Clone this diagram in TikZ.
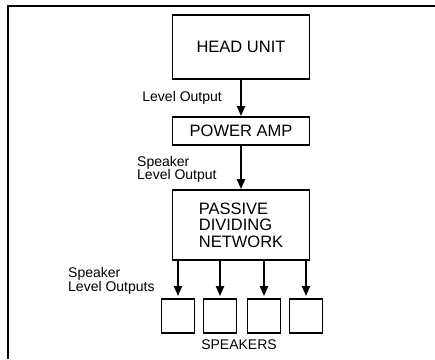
\documentclass[tikz,border=0pt]{standalone}
\usepackage{fontspec}
\setmainfont{Liberation Sans}
\usetikzlibrary{arrows.meta}
\begin{document}
\begin{tikzpicture}[x=1pt,y=-1pt,
  box/.style={draw,line width=1.8pt,inner sep=0pt,font=\fontsize{16.5}{16.5}\selectfont},
  spk/.style={draw,line width=1.8pt,minimum width=33pt,minimum height=34pt,inner sep=0pt},
  lbl/.style={font=\fontsize{14}{13.5}\selectfont,inner sep=0pt},
  conn/.style={line width=2pt,-{Triangle[length=10pt,width=8pt]}}]
\useasboundingbox (0,0) rectangle (435,359);
\draw[line width=2pt] (8,359) -- (8,6) -- (435,6);
\node[box,minimum width=137pt,minimum height=64pt] (head) at (241,47) {HEAD UNIT};
\node[box,minimum width=137pt,minimum height=28pt] (amp) at (241,131) {POWER AMP};
\node[box,minimum width=137pt,minimum height=70pt,align=left] (pdn) at (241,225) {PASSIVE\\DIVIDING\\NETWORK};
\node[spk] (s1) at (178,316) {};
\node[spk] (s2) at (220,316) {};
\node[spk] (s3) at (264,316) {};
\node[spk] (s4) at (306,316) {};
\node[lbl] (spktxt) at (239,345) {SPEAKERS};
\node[lbl,anchor=east] (l1) at (222,98) {Level Output};
\node[lbl,anchor=west,align=left] (l2) at (137,169.5) {Speaker\\Level Output};
\node[lbl,anchor=west,align=left] (l3) at (68,281) {Speaker\\Level Outputs};
\draw[conn] (head.south) -- (amp.north);
\draw[conn] (amp.south) -- (pdn.north);
\foreach \s in {s1,s2,s3,s4}
  \draw[conn,shorten >=2pt] (pdn.south -| \s) -- (\s.north);
\end{tikzpicture}
\end{document}
